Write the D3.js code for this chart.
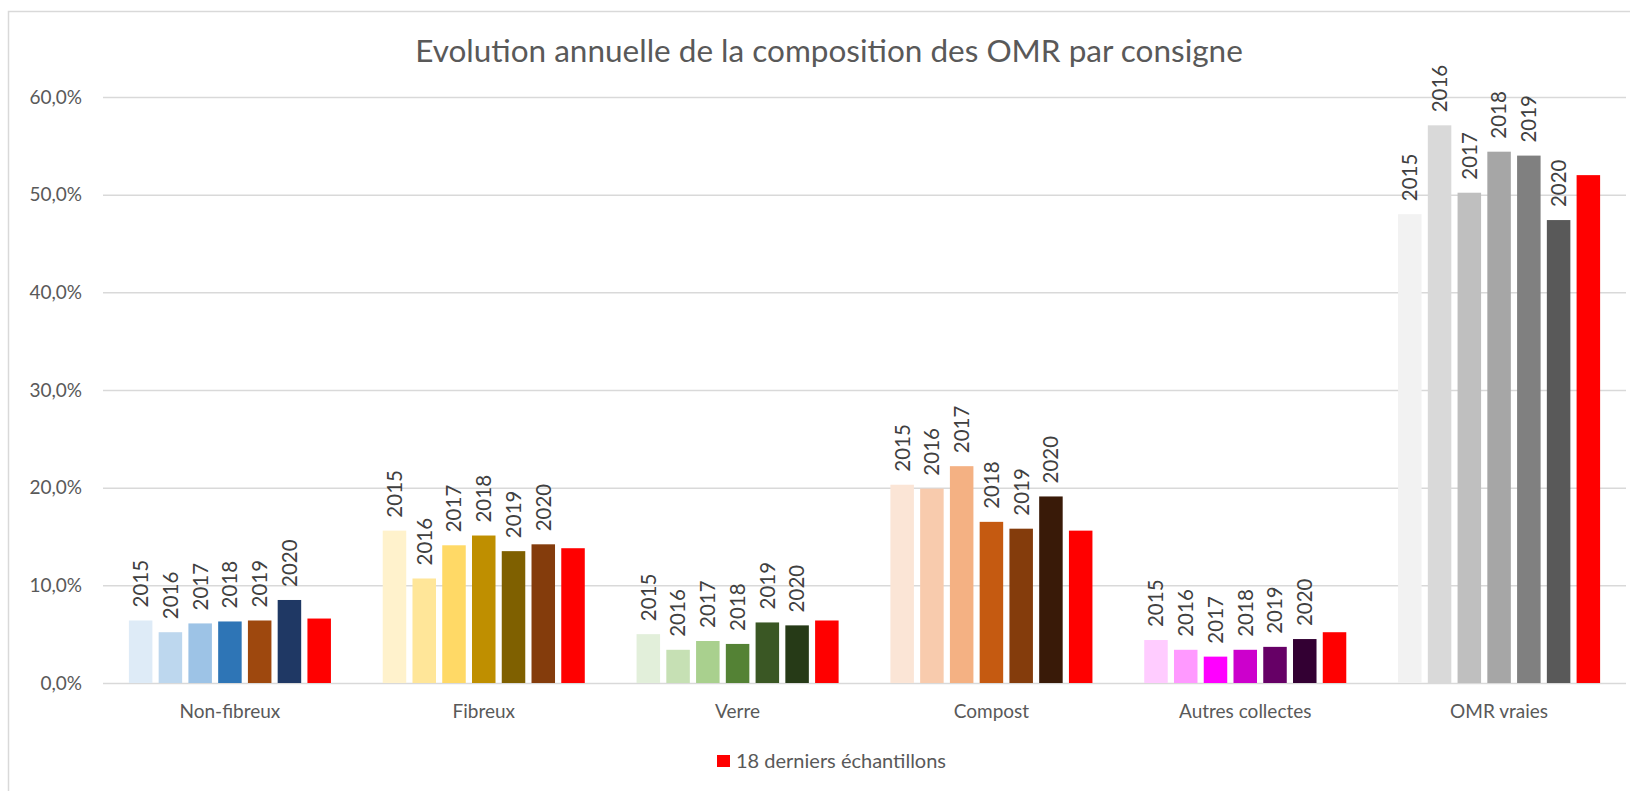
<!DOCTYPE html>
<html>
<head>
<meta charset="utf-8">
<script src="https://cdn.jsdelivr.net/npm/d3@7"></script>
<style>
  body { margin: 0; background: #fff; }
  svg text { font-family: Lato, "Open Sans", sans-serif; }
</style>
</head>
<body>
<svg id="chart" width="1630" height="791"></svg>
<script>
// categories and series
const categories = ["Non-fibreux", "Fibreux", "Verre", "Compost", "Autres collectes", "OMR vraies"];
const years = ["2015", "2016", "2017", "2018", "2019", "2020"];
const lastLabel = "18 derniers échantillons";

// values in %, one array per series
const v2015 = [6.4, 15.6, 5.0, 20.3, 4.4, 48.0];
const v2016 = [5.2, 10.7, 3.4, 19.9, 3.4, 57.1];
const v2017 = [6.1, 14.1, 4.3, 22.2, 2.7, 50.2];
const v2018 = [6.3, 15.1, 4.0, 16.5, 3.4, 54.4];
const v2019 = [6.4, 13.5, 6.2, 15.8, 3.7, 54.0];
const v2020 = [8.5, 14.2, 5.9, 19.1, 4.5, 47.4];
const vLast = [6.6, 13.8, 6.4, 15.6, 5.2, 52.0];

const yTicks = [0, 10, 20, 30, 40, 50, 60];

// one shade ramp per category (2015 -> 2020)
const palettes = [
    ["#DEEBF7", "#BDD7EE", "#9DC3E6", "#2E75B6", "#9E480E", "#1F3864"],
    ["#FFF2CC", "#FFE699", "#FFD966", "#BF8F00", "#7F6000", "#843C0C"],
    ["#E2EFDA", "#C6E0B4", "#A9D08E", "#548235", "#3A5724", "#263A17"],
    ["#FBE5D6", "#F8CBAD", "#F4B183", "#C55A11", "#843C0C", "#391A08"],
    ["#FFCCFF", "#FF99FF", "#FF00FF", "#CC00CC", "#660066", "#330033"],
    ["#F2F2F2", "#D9D9D9", "#BFBFBF", "#A6A6A6", "#808080", "#595959"]
];
const lastColor = "#FF0000";

const seriesValues = [v2015, v2016, v2017, v2018, v2019, v2020, vLast];
const seriesKeys = years.concat([lastLabel]);

const svg = d3.select("#chart");
const margin = { top: 97, bottom: 108, left: 103, right: 4 };
const W = +svg.attr("width");
const H = +svg.attr("height");

// chart frame
svg.append("rect")
    .attr("x", 8.5).attr("y", 11.5)
    .attr("width", 1660).attr("height", 820)
    .attr("fill", "#fff")
    .attr("stroke", "#D9D9D9")
    .attr("stroke-width", 1.5);

const x0 = d3.scaleBand()
    .domain(categories)
    .range([margin.left, W - margin.right])
    .paddingInner(0.204)
    .paddingOuter(0.102);

const x1 = d3.scaleBand()
    .domain(seriesKeys)
    .range([0, x0.bandwidth()])
    .paddingInner(0.21);

const y = d3.scaleLinear()
    .domain([0, 60])
    .range([H - margin.bottom, margin.top]);

const fr = d3.formatLocale({ decimal: ",", thousands: " ", grouping: [3], currency: ["", "€"] });
const pct = fr.format(".1f");

// gridlines + y labels
const yAxis = svg.append("g")
    .attr("transform", `translate(${margin.left},0)`)
    .call(d3.axisLeft(y).tickValues(yTicks)
        .tickSize(-(W - margin.left - margin.right))
        .tickPadding(21)
        .tickFormat(d => pct(d) + "%"));
yAxis.select(".domain").remove();
yAxis.selectAll(".tick line").attr("stroke", "#D9D9D9").attr("stroke-width", 1.5);
yAxis.selectAll(".tick text")
    .attr("fill", "#595959")
    .style("font-size", "19px");

// bars
const rows = [];
categories.forEach((c, ci) => {
    seriesKeys.forEach((k, si) => {
        rows.push({ cat: c, ci: ci, key: k, si: si, value: seriesValues[si][ci] });
    });
});

const groups = svg.append("g").selectAll("g")
    .data(categories)
    .join("g")
    .attr("transform", d => `translate(${x0(d)},0)`);

groups.selectAll("rect")
    .data(c => rows.filter(r => r.cat === c))
    .join("rect")
    .attr("x", d => x1(d.key))
    .attr("y", d => y(d.value))
    .attr("width", x1.bandwidth())
    .attr("height", d => y(0) - y(d.value))
    .attr("fill", d => d.si < 6 ? palettes[d.ci][d.si] : lastColor);

// year labels on top of the yearly bars
groups.selectAll("text.lbl")
    .data(c => rows.filter(r => r.cat === c && r.si < 6))
    .join("text")
    .attr("class", "lbl")
    .attr("transform", d => `translate(${x1(d.key) + x1.bandwidth() / 2},${y(d.value) - 13}) rotate(-90)`)
    .attr("dy", "0.36em")
    .attr("fill", "#404040")
    .style("font-size", "20.5px")
    .text(d => d.key);

// x axis
const xAxis = svg.append("g")
    .attr("transform", `translate(0,${y(0)})`)
    .call(d3.axisBottom(x0).tickSize(0).tickPadding(22));
xAxis.select(".domain").remove();
xAxis.selectAll(".tick text")
    .attr("fill", "#595959")
    .style("font-size", "19px");

// title
svg.append("text")
    .attr("x", 829)
    .attr("y", 62)
    .attr("text-anchor", "middle")
    .attr("fill", "#595959")
    .style("font-size", "31.5px")
    .text("Evolution annuelle de la composition des OMR par consigne");

// legend (only the last series is listed)
const legend = svg.append("g").attr("transform", "translate(717,755)");
legend.append("rect")
    .attr("width", 13).attr("height", 12)
    .attr("fill", lastColor);
legend.append("text")
    .attr("x", 19)
    .attr("y", 6)
    .attr("dy", "0.35em")
    .attr("fill", "#595959")
    .style("font-size", "20px")
    .text(lastLabel);
</script>
</body>
</html>
